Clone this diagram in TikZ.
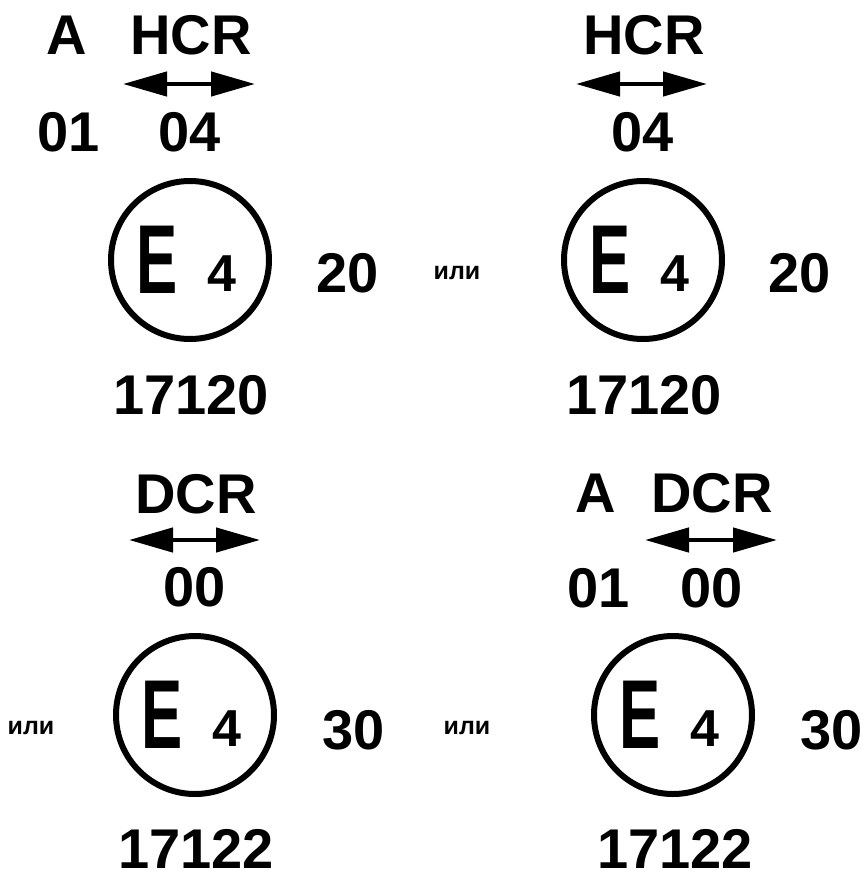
\documentclass[tikz,border=0pt]{standalone}
\usepackage{fontspec}
\setmainfont{Liberation Sans}
\usepackage{graphicx}
\usetikzlibrary{positioning, calc, arrows.meta}

\begin{document}
\begin{tikzpicture}[x=1pt, y=-1pt,
        lbl/.style={inner sep=0pt, font=\fontsize{56}{60}\selectfont\bfseries},
        ili/.style={inner sep=0pt, font=\fontsize{25}{28}\selectfont\bfseries},
        emark/.style={inner sep=0pt, font=\fontsize{98}{100}\selectfont\bfseries},
        cnum/.style={inner sep=0pt, font=\fontsize{52}{56}\selectfont\bfseries},
        ring/.style={line width=6pt},
        dirarrow/.style={line width=4.5pt,
            {Triangle[length=44pt,width=24pt]}-{Triangle[length=44pt,width=24pt]}}]
        % the page
        \useasboundingbox (0,0) rectangle (866,879);

        % centres of the four marks
        \coordinate (C1) at (190,260);
        \coordinate (C2) at (643,260);
        \coordinate (C3) at (195,715);
        \coordinate (C4) at (673,715);

        % top left: A HCR 01 04
        \node[lbl] (a1)   at (67,35)  {A};
        \node[lbl] (hcr1) at (191,35) {HCR};
        \coordinate (hl1) at (123,84);
        \coordinate (hr1) at (255,84);
        \draw[dirarrow] (hl1) -- (hr1);
        \node[lbl] (n01a) at (69,132)  {01};
        \node[lbl] (n04a) at (190,132) {04};
        \draw[ring] (C1) circle (79);
        \node[emark] (e1) at ($ (C1)+(-33,0) $) {\scalebox{0.63}[1]{E}};
        \node[cnum]  (f1) at ($ (C1)+(32,14) $) {4};
        \node[lbl] (s1) at (348,273) {20};
        \node[lbl] (num1) at (191,395) {17120};

        % top right: HCR 04
        \node[ili] (or1) at (457,273) {или};
        \node[lbl] (hcr2) at (644,35) {HCR};
        \coordinate (hl2) at (576,84);
        \coordinate (hr2) at (707,84);
        \draw[dirarrow] (hl2) -- (hr2);
        \node[lbl] (n04b) at (643,132) {04};
        \draw[ring] (C2) circle (79);
        \node[emark] (e2) at ($ (C2)+(-33,0) $) {\scalebox{0.63}[1]{E}};
        \node[cnum]  (f2) at ($ (C2)+(32,14) $) {4};
        \node[lbl] (s2) at (800,273) {20};
        \node[lbl] (num2) at (644,395) {17120};

        % bottom left: DCR 00
        \node[ili] (or2) at (31,728) {или};
        \node[lbl] (dcr1) at (196,494) {DCR};
        \coordinate (dl1) at (129,540);
        \coordinate (dr1) at (260,540);
        \draw[dirarrow] (dl1) -- (dr1);
        \node[lbl] (n00a) at (195,587) {00};
        \draw[ring] (C3) circle (79);
        \node[emark] (e3) at ($ (C3)+(-33,0) $) {\scalebox{0.63}[1]{E}};
        \node[cnum]  (f3) at ($ (C3)+(32,14) $) {4};
        \node[lbl] (s3) at (354,730) {30};
        \node[lbl] (num3) at (196,849) {17122};

        % bottom right: A DCR 01 00
        \node[ili] (or3) at (467,728) {или};
        \node[lbl] (a2)   at (596,493) {A};
        \node[lbl] (dcr2) at (712,493) {DCR};
        \coordinate (dl2) at (645,540);
        \coordinate (dr2) at (777,540);
        \draw[dirarrow] (dl2) -- (dr2);
        \node[lbl] (n01b) at (599,588) {01};
        \node[lbl] (n00b) at (712,588) {00};
        \draw[ring] (C4) circle (79);
        \node[emark] (e4) at ($ (C4)+(-33,0) $) {\scalebox{0.63}[1]{E}};
        \node[cnum]  (f4) at ($ (C4)+(32,14) $) {4};
        \node[lbl] (s4) at (832,730) {30};
        \node[lbl] (num4) at (675,849) {17122};
    \end{tikzpicture}
\end{document}
